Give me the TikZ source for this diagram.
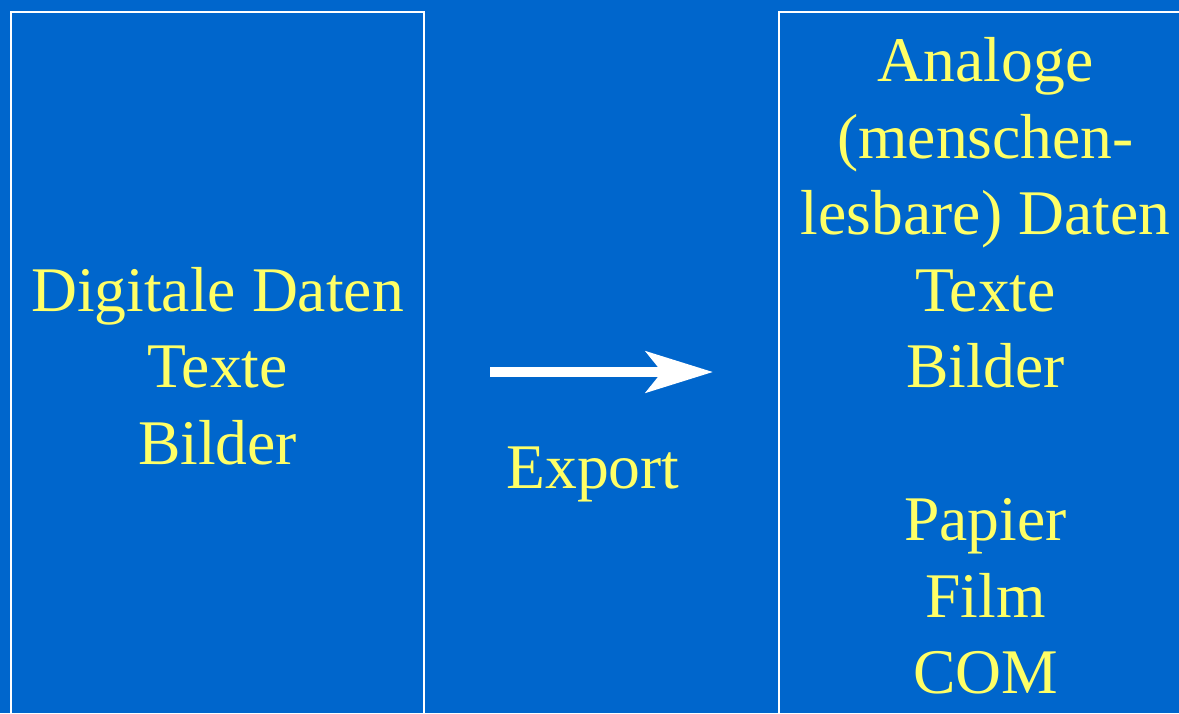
\documentclass[tikz,border=0pt]{standalone}
\usepackage{fontspec}
\setmainfont{Liberation Serif}
\usepackage{tikz}
\usetikzlibrary{arrows.meta,positioning}
\definecolor{slideblue}{HTML}{0066CC}
\definecolor{slideyellow}{HTML}{FFFF66}

\begin{document}
\begin{tikzpicture}[x=1pt,y=-1pt,every node/.style={font=\fontsize{63.6}{76.5}\selectfont,text=slideyellow,align=center,inner sep=0pt,outer sep=0pt},panel/.style={draw=white,line width=2.5pt,minimum width=413pt,minimum height=708pt,anchor=north west}]
\useasboundingbox (0,0) rectangle (1179,713);
\fill[slideblue] (0,0) rectangle (1179,713);
\clip (0,0) rectangle (1179,713);
\node[panel] (digital) at (11,12) {Digitale Daten\\Texte\\Bilder};
\node[panel] (analog) at (779,12) {Analoge\\(menschen-\\lesbare) Daten\\Texte\\Bilder\\[76.5pt]Papier\\Film\\COM};
\draw[-{Stealth[length=67pt,width=41pt,inset=16pt]},line width=10pt,white,shorten <=66pt,shorten >=66pt] ([yshift=-6pt]digital.east)--([yshift=-6pt]analog.west);
\node[anchor=base] (export) at (593,488) {Export};
\end{tikzpicture}
\end{document}
